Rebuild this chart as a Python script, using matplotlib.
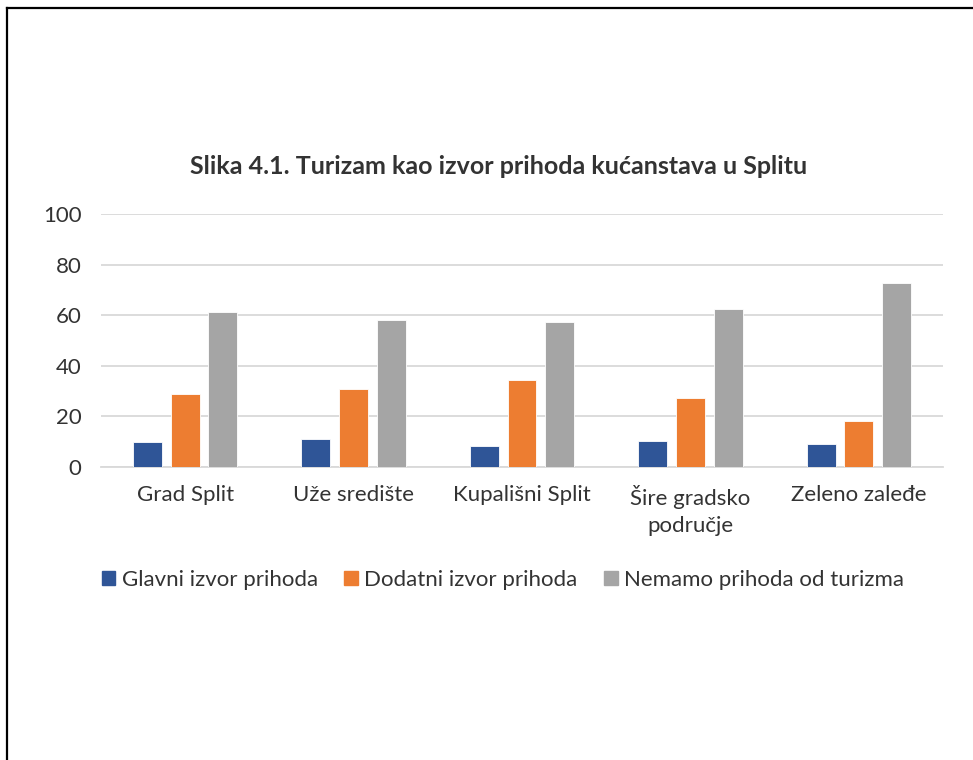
import matplotlib
matplotlib.use('Agg')
import matplotlib.pyplot as plt
import matplotlib.lines as mlines
import numpy as np

plt.rcParams['font.family'] = ['Lato', 'DejaVu Sans']

BLUE = '#2F5597'
ORANGE = '#ED7D31'
GRAY = '#A5A5A5'
TXT = '#333333'

categories = ['Grad Split', 'Uže središte', 'Kupališni Split', 'Šire gradsko\npodručje', 'Zeleno zaleđe']
glavni = [10.0, 11.0, 8.2, 10.2, 8.9]
dodatni = [28.7, 30.9, 34.2, 27.2, 18.1]
nemamo = [61.1, 58.0, 57.5, 62.5, 72.9]
series_names = ['Glavni izvor prihoda', 'Dodatni izvor prihoda', 'Nemamo prihoda od turizma']

fig = plt.figure(figsize=(9.73, 7.6), dpi=100)
fig.patch.set_facecolor('white')

# frame of the chart object (top and left edge only visible)
fig.add_artist(mlines.Line2D([7/973, 1], [1 - 8/760, 1 - 8/760], color='black', lw=1.6))
fig.add_artist(mlines.Line2D([7/973, 7/973], [0, 1 - 8/760], color='black', lw=1.6))

ax = fig.add_axes([101/973, 1 - 467/760, 842/973, 253/760])
x = np.arange(len(categories))
w = 0.172
step = 0.224
for off, vals, col in zip([-step, 0, step], [glavni, dodatni, nemamo], [BLUE, ORANGE, GRAY]):
    ax.bar(x + off, vals, w, color=col, edgecolor='white', linewidth=0.6, zorder=3)

ax.set_xlim(-0.5, len(categories) - 0.5)
ax.set_ylim(0, 100)
ax.set_yticks([0, 20, 40, 60, 80, 100])
ax.yaxis.grid(True, color='#D9D9D9', linewidth=1.3, zorder=0)
ax.set_axisbelow(True)
for s in ['top', 'right', 'left']:
    ax.spines[s].set_visible(False)
ax.spines['bottom'].set_color('#D9D9D9')
ax.spines['bottom'].set_linewidth(1.3)
ax.tick_params(axis='both', length=0, labelsize=16, labelcolor=TXT)
ax.tick_params(axis='y', pad=14)
ax.tick_params(axis='x', pad=13)
ax.set_xticks(x)
ax.set_xticklabels(categories, va='top', linespacing=1.45)

fig.text(499/973, 1 - 167/760, 'Slika 4.1. Turizam kao izvor prihoda kućanstava u Splitu',
         ha='center', va='center', fontsize=18, fontweight='bold', color=TXT)

handles = [plt.Rectangle((0, 0), 1, 1, color=c) for c in [BLUE, ORANGE, GRAY]]
fig.legend(handles, series_names, loc='center', bbox_to_anchor=(503/973, 1 - 580/760),
           ncol=3, frameon=False, fontsize=16, labelcolor=TXT,
           handlelength=0.6, handleheight=0.6, handletextpad=0.3, columnspacing=1.2)

plt.savefig('out.png', dpi=100)
plt.close()
